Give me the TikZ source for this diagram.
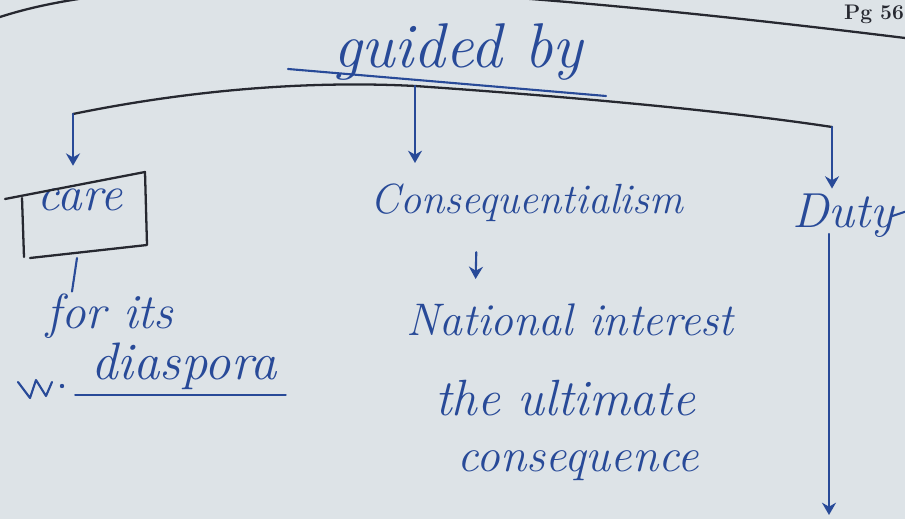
\documentclass[tikz,border=0pt]{standalone}
\usetikzlibrary{arrows.meta}
\definecolor{ink}{RGB}{40,74,152}
\definecolor{paper}{RGB}{221,227,231}
\definecolor{pencil}{RGB}{38,40,48}
\tikzset{
  hand/.style={text=ink, inner sep=1pt, font=\fontsize{#1}{#1}\selectfont\itshape},
  inkline/.style={draw=ink, line width=1.2pt, line cap=round, line join=round},
  darkline/.style={draw=pencil, line width=1.3pt, line cap=round, line join=round},
  inkarrow/.style={inkline, -{Stealth[length=7pt,width=8pt]}},
}
\begin{document}
\begin{tikzpicture}[x=0.02cm,y=-0.02cm]
  \fill[paper] (0,0) rectangle (905,519);
  \useasboundingbox (0,0) rectangle (905,519);

  % page rule and page number
  \draw[darkline] (0,17) .. controls (150,-32) and (450,-18) .. (905,38);
  \node[text=pencil, inner sep=1pt, font=\fontsize{12}{12}\selectfont\bfseries] (pg) at (874,14) {Pg 56};

  % title
  \node[hand=36] (title) at (458,52) {guided by};
  \draw[inkline] (288,69) -- (606,96);

  % bracket from the title
  \coordinate (fork) at (415,86);
  \coordinate (lcorner) at (73,114);
  \coordinate (rcorner) at (832,127);
  \draw[darkline] (lcorner) .. controls (180,92) and (300,80) .. (fork)
                  .. controls (560,96) and (720,110) .. (rcorner);

  % left branch
  \node[hand=28] (care) at (80,200) {care};
  \draw[darkline] (5,199) -- (145,172) -- (147,245) -- (30,258);
  \draw[darkline] (22,198) -- (24,257);
  \draw[inkarrow, shorten >=12pt] (lcorner) -- (lcorner |- care.north);
  \node[hand=28] (forits) at (110,316) {for its};
  \draw[inkline] (77,258) -- (forits.north -| 72,0);
  \node[hand=30] (diasp) at (184,366) {diaspora};
  \draw[inkline] ([yshift=-2pt,xshift=-8pt]diasp.south west) -- ([yshift=-2pt,xshift=4pt]diasp.south east);
  \coordinate (scrib) at (18,382);
  \draw[inkline] (scrib) -- ++(12,16) -- ++(6,-18) -- ++(10,16) -- ++(6,-14);
  \fill[ink] (62,386) circle (2.2);

  % middle branch
  \draw[inkarrow, shorten >=4pt] (fork) -- (fork |- 0,170);
  \node[hand=24] (cons) at (527,203) {Consequentialism};
  \node[hand=26] (nat) at (570,320) {National interest};
  \node[hand=29] (ult) at (565,398) {the ultimate};
  \node[hand=27] (conseq) at (578,466) {consequence};
  \draw[inkarrow, shorten <=16pt, shorten >=13pt] ([xshift=-1cm]cons.south) -- ([xshift=-1.9cm]nat.north);

  % right branch
  \node[hand=28] (duty) at (843,216) {Duty};
  \draw[inkarrow, shorten >=2pt] (rcorner) -- (rcorner |- duty.north);
  \draw[inkline] ([xshift=-2pt]duty.east) -- ++(30,-10);
  \coordinate (dutyend) at (829,515);
  \draw[inkarrow] (dutyend |- 0,234) -- (dutyend);
\end{tikzpicture}
\end{document}
